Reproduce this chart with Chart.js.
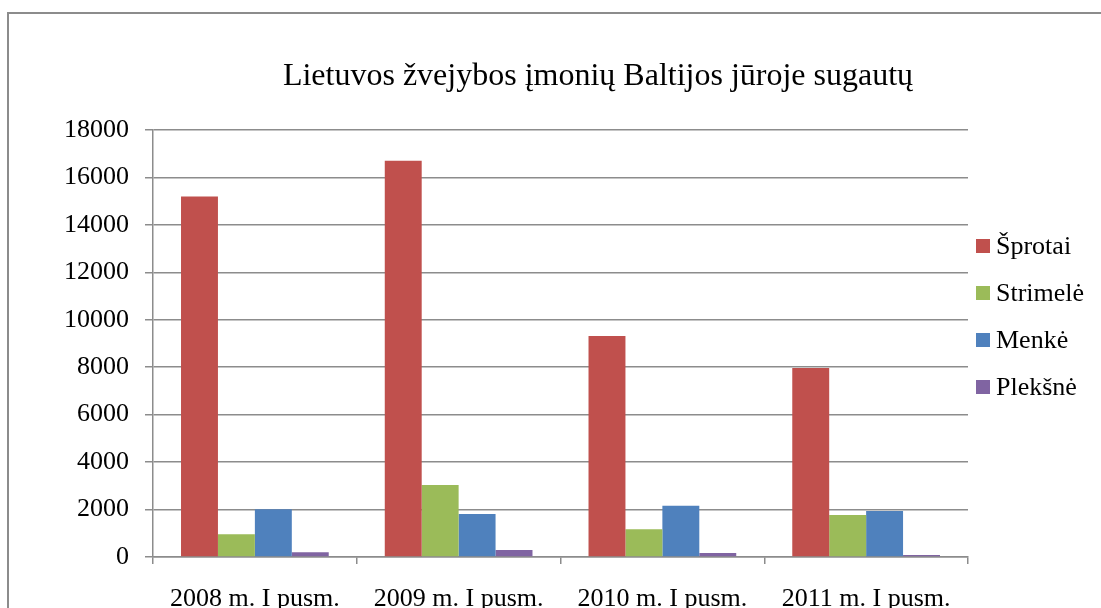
<!DOCTYPE html>
<html>
<head>
<meta charset="utf-8">
<script src="https://cdn.jsdelivr.net/npm/chart.js@4.4.0/dist/chart.umd.min.js"></script>
<style>
  body { margin: 0; background: #fff; }
  #wrap { position: relative; width: 1101px; height: 608px; overflow: hidden; }
  #frame { position: absolute; left: 7px; top: 12px; width: 1200px; height: 700px;
           border-left: 2px solid #8c8c8c; border-top: 2px solid #8c8c8c; }
  #legend { position: absolute; left: 976px; top: 222px; font-family: "Liberation Serif", serif;
            font-size: 26px; color: #000; }
  #legend div { height: 47px; display: flex; align-items: center; }
  #legend span.box { display: inline-block; width: 14px; height: 14px; margin-right: 6px; }
</style>
</head>
<body>
<div id="wrap">
  <div id="frame"></div>
  <canvas id="myChart" width="1101" height="608"></canvas>
  <div id="legend"></div>
</div>
<script>
let title = "Lietuvos žvejybos įmonių Baltijos jūroje sugautų";
let categories = ["2008 m. I pusm.", "2009 m. I pusm.", "2010 m. I pusm.", "2011 m. I pusm."];
let seriesNames = ["Šprotai", "Strimelė", "Menkė", "Plekšnė"];
let sprotai = [15200, 16700, 9320, 7970];
let strimele = [960, 3030, 1170, 1770];
let menke = [2010, 1810, 2160, 1940];
let pleksne = [200, 290, 170, 80];
let colors = ['#c0504d', '#9bbb59', '#4f81bd', '#8064a2'];

let values = [sprotai, strimele, menke, pleksne];
let serif = "'Liberation Serif', 'Times New Roman', serif";

// legend on the right, built from the same arrays
let legend = document.getElementById('legend');
seriesNames.forEach(function (name, i) {
    let row = document.createElement('div');
    row.innerHTML = '<span class="box" style="background:' + colors[i] + '"></span>' + name;
    legend.appendChild(row);
});

let titlePlugin = {
    id: 'titleText',
    afterDraw: function (chart) {
        let ctx = chart.ctx;
        ctx.save();
        ctx.font = "32px " + serif;
        ctx.fillStyle = '#000';
        ctx.textAlign = 'center';
        ctx.textBaseline = 'alphabetic';
        ctx.fillText(title, 598, 85);
        ctx.restore();
    }
};

let bars = document.getElementById('myChart').getContext('2d');
let myChart = new Chart(bars, {
    type: 'bar',
    data: {
        labels: categories,
        datasets: seriesNames.map(function (name, i) {
            return {
                label: name,
                data: values[i],
                backgroundColor: colors[i],
                borderWidth: 0
            };
        })
    },
    options: {
        responsive: false,
        animation: false,
        devicePixelRatio: 1,
        categoryPercentage: 0.725,
        barPercentage: 1,
        layout: { padding: { top: 130, right: 133, left: 0, bottom: 0 } },
        plugins: {
            legend: { display: false },
            tooltip: { enabled: false }
        },
        scales: {
            y: {
                min: 0,
                max: 18000,
                ticks: {
                    stepSize: 2000,
                    color: '#000',
                    padding: 16,
                    font: { family: serif, size: 26 },
                    callback: function (v) { return String(v); }
                },
                grid: { color: '#8c8c8c', lineWidth: 1.5, tickLength: 8 },
                border: { color: '#8c8c8c', width: 1.5 },
                afterFit: function (scale) { scale.width = 153; }
            },
            x: {
                ticks: {
                    color: '#000',
                    padding: 20,
                    font: { family: serif, size: 26 }
                },
                grid: { offset: true, drawOnChartArea: false, color: '#8c8c8c', lineWidth: 1.5, tickLength: 7 },
                border: { color: '#8c8c8c', width: 1.5 },
                afterFit: function (scale) { scale.height = 51; }
            }
        }
    },
    plugins: [titlePlugin]
});
</script>
</body>
</html>
